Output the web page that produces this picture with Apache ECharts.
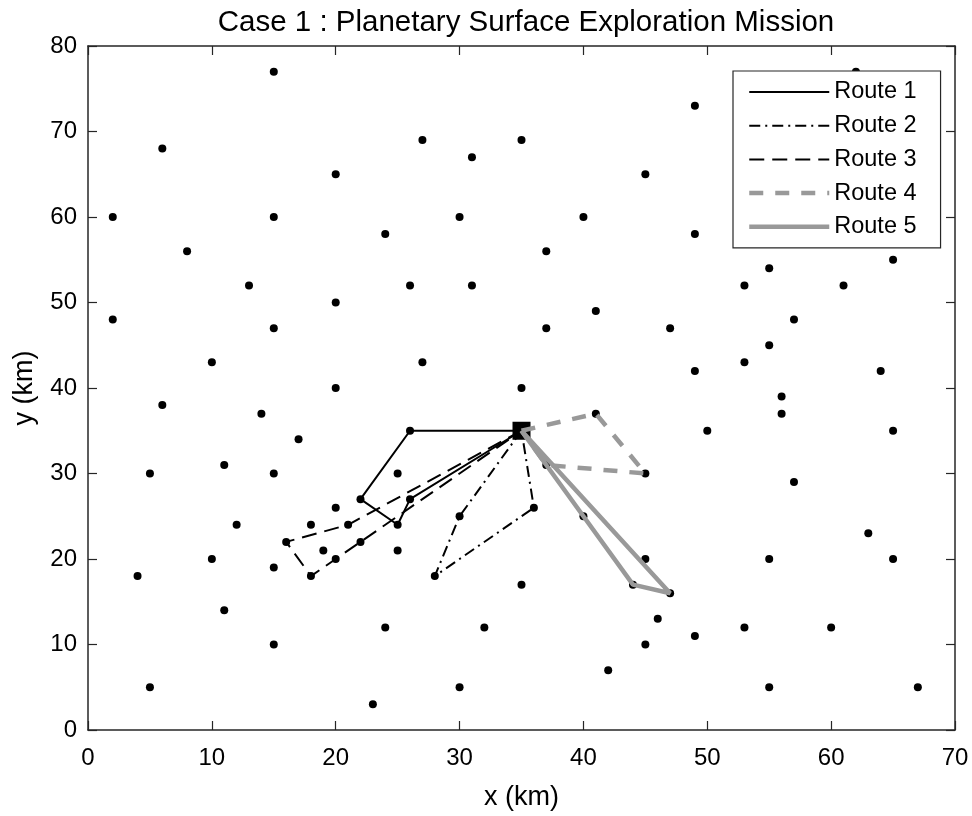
<!DOCTYPE html>
<html>
<head>
<meta charset="utf-8">
<script src="https://cdn.jsdelivr.net/npm/echarts@6/dist/echarts.min.js"></script>
<style>html,body{margin:0;padding:0;background:#fff}#c{width:972px;height:816px}</style>
</head>
<body>
<div id="c"></div>
<script>
var siteX = [15,62,49,6,27,35,31,20,45,2,15,30,40,24,49,8,37,65,13,26,31,53,61,55,20,41,2,57,15,37,47,55,10,27,53,49,64,20,35,56,6,14,41,56,17,26,50,65,5,15,25,45,11,37,57,22,26,20,36,40,30,12,18,21,25,63,16,22,19,25,10,20,45,55,65,15,4,18,28,35,44,47,11,46,24,32,53,60,49,15,45,42,5,30,55,67,23];
var siteY = [77,77,73,68,69,69,67,65,65,60,60,60,60,58,58,56,56,55,52,52,52,52,52,54,50,49,48,48,47,47,47,45,43,43,43,42,42,40,40,39,38,37,37,37,34,35,35,35,30,30,30,30,31,31,29,27,27,26,26,25,25,24,24,24,24,23,22,22,21,21,20,20,20,20,20,19,18,18,18,17,17,16,14,13,12,12,12,12,11,10,10,7,5,5,5,5,3];
var base = [35,35];
var routeNames = ['Route 1','Route 2','Route 3','Route 4','Route 5'];
var route1 = [[35,35],[26,35],[22,27],[25,24],[26,27],[35,35]];
var route2 = [[35,35],[30,25],[28,18],[36,26],[35,35]];
var route3 = [[35,35],[21,24],[16,22],[18,18],[20,20],[22,22],[35,35]];
var route4 = [[35,35],[41,37],[45,30],[37,31],[35,35]];
var route5 = [[35,35],[40,25],[44,17],[47,16],[35,35]];

var sites = siteX.map(function(x,i){return [x, siteY[i]];});
var routes = [route1,route2,route3,route4,route5];
var styles = [
  {color:'#000', width:2, type:'solid'},
  {color:'#000', width:2, type:[11,5,2,5]},
  {color:'#000', width:2, type:[15,8]},
  {color:'#999', width:4.5, type:[14,12]},
  {color:'#999', width:4.5, type:'solid'}
];
var font = 'Liberation Sans, Arial, Helvetica, sans-serif';
var series = [{
  type:'scatter', name:'sites', data:sites, symbol:'circle', symbolSize:8,
  itemStyle:{color:'#000', opacity:1}, silent:true, z:2
},{
  type:'scatter', name:'base', data:[base], symbol:'rect', symbolSize:18,
  itemStyle:{color:'#000', opacity:1}, silent:true, z:3
}];
routes.forEach(function(r,i){
  series.push({
    type:'line', name:routeNames[i], data:r, symbol:'none', z:4+i,
    lineStyle:styles[i], itemStyle:{color:styles[i].color}, animation:false
  });
});
var legendData = routeNames.map(function(n,i){
  return {name:n, lineStyle:{width:styles[i].width, type:styles[i].type, color:styles[i].color}};
});
var axisCommon = {
  type:'value', axisLine:{show:true, onZero:false, lineStyle:{color:'#262626', width:1.5}},
  axisTick:{show:true, inside:true, length:9, lineStyle:{color:'#262626', width:1.2}},
  splitLine:{show:false}
};
var chart = echarts.init(document.getElementById('c'));
chart.setOption({
  animation:false,
  backgroundColor:'#fff',
  title:{text:'Case 1 : Planetary Surface Exploration Mission', left:521, top:3, textAlign:'center',
    textStyle:{fontFamily:font, fontSize:29.5, fontWeight:'normal', color:'#000'}},
  grid:{left:88, right:17, top:46, bottom:84},
  legend:{
    data:legendData, orient:'vertical', left:733, top:71,
    backgroundColor:'#fff', borderColor:'#262626', borderWidth:1.2,
    padding:[9,24,9,14], itemWidth:80, itemHeight:14, itemGap:9.7,
    itemStyle:{opacity:0},
    textStyle:{fontFamily:font, fontSize:23.5, color:'#000', lineHeight:24}
  },
  xAxis:[Object.assign({}, axisCommon, {
    min:0, max:70, interval:10, position:'bottom',
    name:'x (km)', nameLocation:'middle', nameGap:54,
    nameTextStyle:{fontFamily:font, fontSize:27, color:'#000'},
    axisLabel:{fontFamily:font, fontSize:24, color:'#000', margin:16}
  }), Object.assign({}, axisCommon, {
    min:0, max:70, interval:10, position:'top', axisLabel:{show:false}
  })],
  yAxis:[Object.assign({}, axisCommon, {
    min:0, max:80, interval:10, position:'left',
    name:'y (km)', nameLocation:'middle', nameGap:50,
    nameTextStyle:{fontFamily:font, fontSize:27, color:'#000'},
    axisLabel:{fontFamily:font, fontSize:24, color:'#000', margin:11}
  }), Object.assign({}, axisCommon, {
    min:0, max:80, interval:10, position:'right', axisLabel:{show:false}
  })],
  series:series
});
</script>
</body>
</html>
